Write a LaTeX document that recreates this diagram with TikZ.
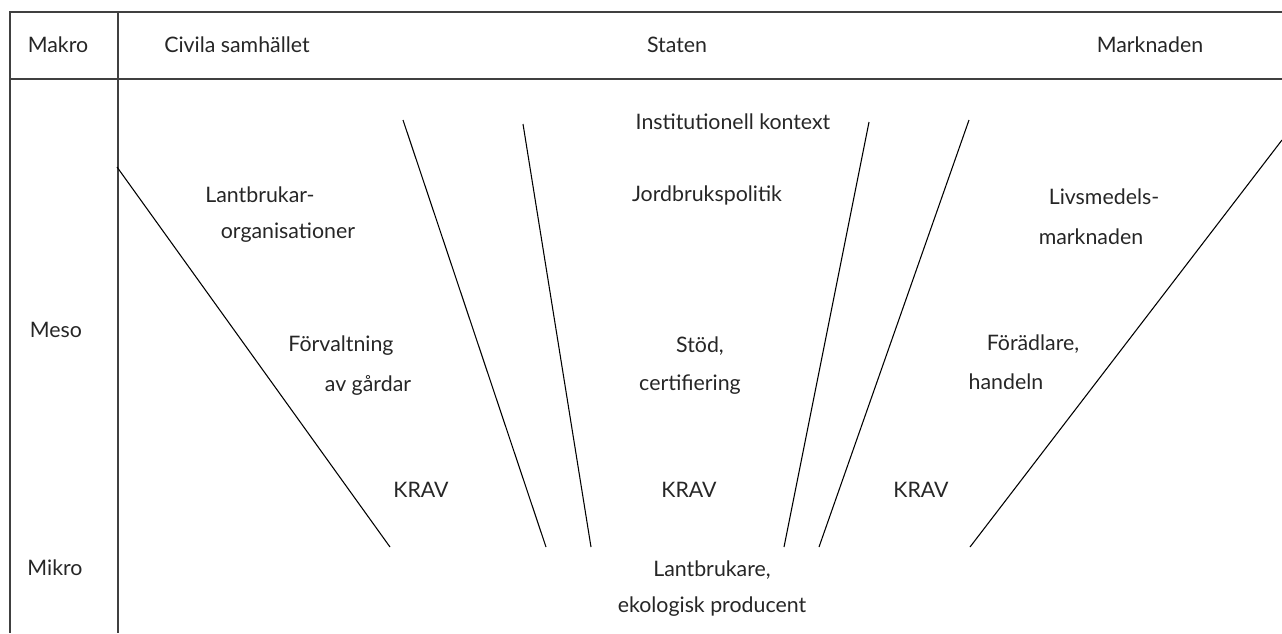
\documentclass[tikz,border=0pt]{standalone}
\usepackage{fontspec}
\setmainfont{Lato}
\tikzset{
  lbl/.style={inner sep=0.75pt, font=\fontsize{16}{19}\selectfont, text=black!85},
  frame/.style={line width=1.1pt, color=black!75},
  wedge/.style={line width=0.8pt}
}
\begin{document}
\begin{tikzpicture}[x=0.75pt,y=0.75pt,yscale=-1,xscale=1]
\useasboundingbox (0,0) rectangle (1282,633);

%Frame
\draw [frame] (1282,12) -- (10,12) -- (10,633) ;
\draw [frame] (10,79) -- (1282,79) ;
\draw [frame] (118,12) -- (118,633) ;

%Straight Lines
\draw [wedge] (117,167) -- (390,547) ;
\draw [wedge] (403,120) -- (546,547) ;
\draw [wedge] (523,124) -- (591,547) ;
\draw [wedge] (869,122) -- (784,547) ;
\draw [wedge] (969,120) -- (819,547) ;
\draw [wedge] (1282,140) -- (970,547) ;

% Text Node
\node [lbl] (makro) at (58,45) {Makro};
\node [lbl] (civila) at (237,45) {Civila samhället};
\node [lbl] (staten) at (677,45) {Staten};
\node [lbl] (marknaden) at (1150,45) {Marknaden};
\node [lbl] (meso) at (56,330) {Meso};
\node [lbl] (mikro) at (55,568) {Mikro};

% Text Node
\node [lbl] (kontext) at (733,122) {Institutionell kontext};
\node [lbl] (politik) at (707,195) {Jordbrukspolitik};
\node [lbl] (lantorg1) at (260,195) {Lantbrukar-};
\node [lbl] (lantorg2) at (288,233) {organisationer};
\node [lbl] (livs1) at (1104,197) {Livsmedels-};
\node [lbl] (livs2) at (1091,237) {marknaden};

% Text Node
\node [lbl] (forv1) at (341,346) {Förvaltning};
\node [lbl] (forv2) at (368,385) {av gårdar};
\node [lbl] (stod1) at (700,346) {Stöd,};
\node [lbl] (stod2) at (690,385) {certifiering};
\node [lbl] (fora1) at (1033,344) {Förädlare,};
\node [lbl] (fora2) at (1006,382) {handeln};

% Text Node
\node [lbl] (krav1) at (421,490) {KRAV};
\node [lbl] (krav2) at (689,490) {KRAV};
\node [lbl] (krav3) at (921,490) {KRAV};

% Text Node
\node [lbl] (bonde1) at (712,570) {Lantbrukare,};
\node [lbl] (bonde2) at (712,607) {ekologisk producent};
\end{tikzpicture}
\end{document}
